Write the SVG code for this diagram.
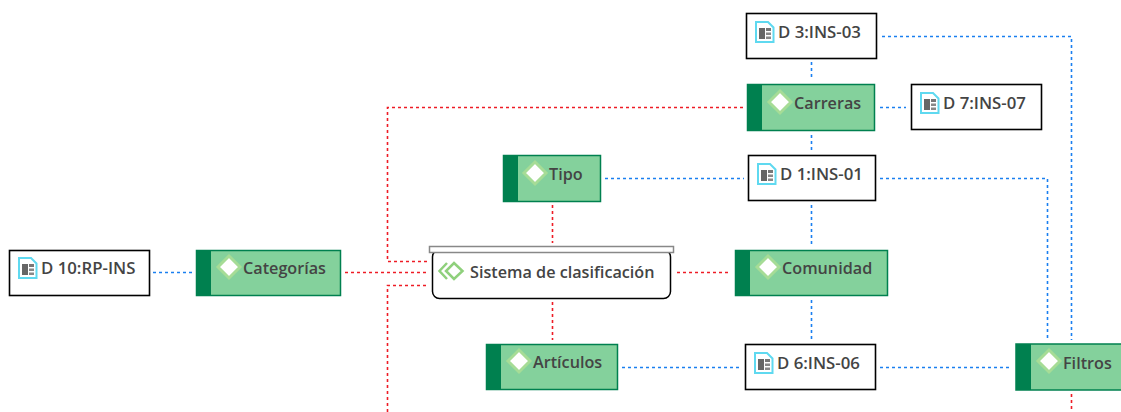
<svg xmlns="http://www.w3.org/2000/svg" width="1121" height="412" viewBox="0 0 1121 412">
<style>
text{font-family:"Open Sans","Noto Sans","Liberation Sans",sans-serif;font-weight:600;font-size:16.200px;fill:#444}
.w{font-size:16.800px}
.doc{fill:#fff;stroke:#000;stroke-width:1.600}
.g{fill:#84d19c;stroke:#00804f;stroke-width:1.500}
.band{fill:#00804f}
.dia{fill:#fff;stroke:#a6dc96;stroke-width:3}
.b{fill:none;stroke:#1a7ff0;stroke-width:1.600;stroke-dasharray:3 3}
.r{fill:none;stroke:#ee1c25;stroke-width:1.600;stroke-dasharray:3 3}
</style>
<defs>
<g id="ic">
<path d="M1 1H13L18.500 6.500V21H1Z" fill="#fff" stroke="#5fd9f0" stroke-width="2"/>
<rect x="4" y="7" width="6" height="11" fill="#666"/>
<rect x="11" y="7" width="5" height="3" fill="#777"/>
<rect x="11" y="11.500" width="5" height="2.500" fill="#888"/>
<rect x="11" y="15.500" width="5" height="2.500" fill="#888"/>
</g>
<path id="d" class="dia" d="M0-11L11 0L0 11L-11 0Z"/>
</defs>
<g id="connectors">
<path class="b" d="M882 36.500H1071.500V340"/>
<path class="b" d="M811.500 62V80"/>
<path class="b" d="M880 107.500H906"/>
<path class="b" d="M811.500 135V151"/>
<path class="b" d="M605 178.500H744"/>
<path class="b" d="M880 178.500H1047.500V340"/>
<path class="b" d="M811.500 205V246"/>
<path class="b" d="M811.500 300V340"/>
<path class="b" d="M622 367.500H741"/>
<path class="b" d="M880 367.500H1012"/>
<path class="b" d="M153 272.500H192"/>
<path class="r" d="M743 107.500H387.500V261.500H428"/>
<path class="r" d="M552.500 205V243"/>
<path class="r" d="M345 272.500H428"/>
<path class="r" d="M387.500 412V285.500H428"/>
<path class="r" d="M677 272.500H731"/>
<path class="r" d="M552.500 302V340"/>
<path class="r" d="M1071.500 394V412"/>
</g>
<g id="n-d3"><rect class="doc" x="746.500" y="13.500" width="130" height="45"/><use href="#ic" x="755" y="21"/><text class="w" x="778" y="38">D 3:INS-03</text></g>
<g id="n-carreras"><rect class="g" x="747.500" y="84.500" width="127" height="46"/><rect class="band" x="747" y="84" width="15" height="47"/><use href="#d" x="780" y="102"/><text x="794" y="109">Carreras</text></g>
<g id="n-d7"><rect class="doc" x="911.500" y="84.500" width="130" height="45"/><use href="#ic" x="920" y="92"/><text class="w" x="943" y="109">D 7:INS-07</text></g>
<g id="n-tipo"><rect class="g" x="503.500" y="155.500" width="97" height="46"/><rect class="band" x="503" y="155" width="15" height="47"/><use href="#d" x="535" y="173"/><text x="549" y="180">Tipo</text></g>
<g id="n-d1"><rect class="doc" x="748.500" y="155.500" width="127" height="45"/><use href="#ic" x="757" y="163"/><text class="w" x="780" y="180">D 1:INS-01</text></g>
<g id="n-d10"><rect class="doc" x="9.500" y="250.500" width="140" height="45"/><use href="#ic" x="18" y="257"/><text class="w" x="41" y="274">D 10:RP-INS</text></g>
<g id="n-categorias"><rect class="g" x="196.500" y="250.500" width="144" height="45"/><rect class="band" x="196" y="250" width="15" height="46"/><use href="#d" x="229" y="267"/><text x="243" y="274">Categorías</text></g>
<g id="n-sistema"><rect x="432.500" y="250" width="238" height="48.500" rx="7" fill="#fff" stroke="#000" stroke-width="1.500"/><rect x="429.500" y="246.500" width="244" height="6" fill="#fff" stroke="#888" stroke-width="1.500"/><path d="M447 263L439.500 271L447 279" fill="none" stroke="#8fd07c" stroke-width="2.500"/><path d="M454 263L462.500 271L454 279L446 271Z" fill="none" stroke="#8fd07c" stroke-width="2.500"/><text x="470" y="278">Sistema de clasificación</text></g>
<g id="n-comunidad"><rect class="g" x="735.500" y="250.500" width="152" height="45"/><rect class="band" x="735" y="250" width="15" height="46"/><use href="#d" x="768" y="267"/><text x="782" y="274">Comunidad</text></g>
<g id="n-articulos"><rect class="g" x="486.500" y="344.500" width="131" height="45"/><rect class="band" x="486" y="344" width="15" height="46"/><use href="#d" x="519" y="361"/><text x="533" y="368">Artículos</text></g>
<g id="n-d6"><rect class="doc" x="745.500" y="344.500" width="130" height="45"/><use href="#ic" x="754" y="352"/><text class="w" x="777" y="369">D 6:INS-06</text></g>
<g id="n-filtros"><rect class="g" x="1016" y="344" width="110" height="46"/><rect class="band" x="1016" y="344" width="15" height="46"/><use href="#d" x="1049" y="361"/><text x="1063" y="369">Filtros</text></g>
</svg>
